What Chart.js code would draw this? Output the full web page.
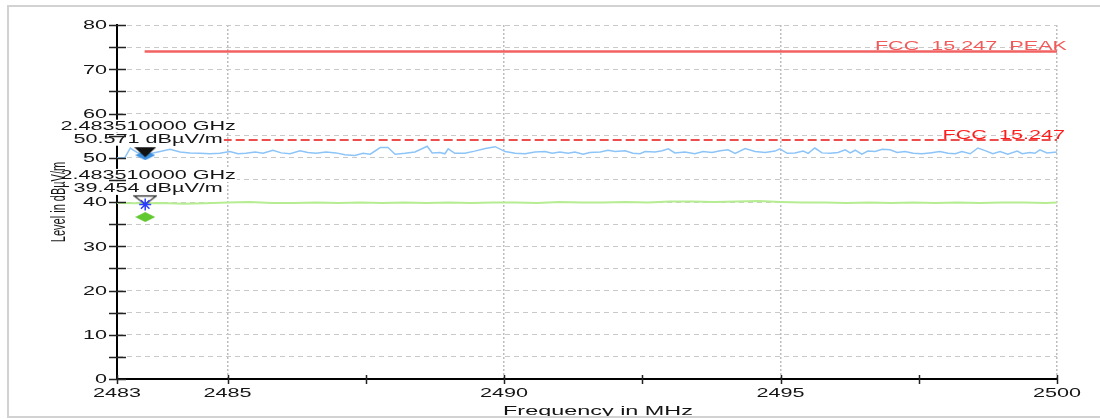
<!DOCTYPE html>
<html>
<head>
<meta charset="utf-8">
<script src="https://cdn.jsdelivr.net/npm/chart.js@4"></script>
<style>
  body { margin: 0; background: #fff; }
  canvas { display: block; }
</style>
</head>
<body>
<canvas id="scan" width="1100" height="419"></canvas>
<script>
'use strict';

// peak trace (blue)
const blueFreq = [2483.00, 2483.14, 2483.24, 2483.36, 2483.51, 2483.63, 2483.78, 2483.96, 2484.14, 2484.32,
  2484.50, 2484.68, 2484.86, 2485.04, 2485.19, 2485.33, 2485.50, 2485.64, 2485.82, 2485.97,
  2486.13, 2486.31, 2486.45, 2486.60, 2486.78, 2486.96, 2487.12, 2487.30, 2487.45, 2487.58,
  2487.76, 2487.90, 2488.03, 2488.21, 2488.39, 2488.61, 2488.70, 2488.84, 2488.93, 2488.99,
  2489.11, 2489.29, 2489.47, 2489.66, 2489.84, 2490.02, 2490.20, 2490.38, 2490.56, 2490.74,
  2490.87, 2491.01, 2491.16, 2491.28, 2491.43, 2491.55, 2491.74, 2491.88, 2492.01, 2492.19,
  2492.33, 2492.46, 2492.55, 2492.73, 2492.86, 2492.97, 2493.09, 2493.27, 2493.45, 2493.60,
  2493.76, 2493.91, 2494.05, 2494.18, 2494.36, 2494.54, 2494.72, 2494.90, 2494.99, 2495.12,
  2495.26, 2495.41, 2495.50, 2495.62, 2495.75, 2495.90, 2496.04, 2496.17, 2496.26, 2496.35,
  2496.47, 2496.58, 2496.71, 2496.84, 2496.98, 2497.11, 2497.25, 2497.40, 2497.56, 2497.70,
  2497.88, 2498.03, 2498.16, 2498.28, 2498.43, 2498.57, 2498.70, 2498.84, 2498.97, 2499.11,
  2499.28, 2499.37, 2499.51, 2499.60, 2499.69, 2499.82, 2500.00];
const blueLevel = [50.0, 50.0, 52.2, 51.2, 50.6, 51.0, 51.4, 51.9, 51.3, 51.1,
  51.0, 50.9, 51.0, 51.4, 50.9, 51.0, 51.3, 51.0, 51.7, 51.1,
  50.9, 51.6, 51.2, 51.0, 51.3, 51.1, 50.7, 50.5, 51.0, 50.8,
  52.3, 52.3, 50.8, 51.0, 51.3, 52.6, 51.1, 51.2, 50.9, 52.0,
  51.0, 51.0, 51.5, 52.1, 52.5, 51.4, 51.0, 50.9, 51.3, 51.4,
  51.0, 51.3, 51.0, 51.3, 50.8, 51.2, 51.3, 51.7, 51.4, 51.6,
  51.0, 50.9, 51.4, 51.3, 51.6, 52.0, 51.1, 51.3, 50.9, 51.4,
  51.2, 51.6, 51.8, 51.0, 52.1, 51.4, 51.2, 51.5, 52.0, 51.0,
  51.1, 51.5, 51.0, 52.2, 51.1, 51.0, 51.2, 51.8, 51.1, 51.7,
  50.8, 51.5, 51.4, 51.9, 51.8, 51.2, 51.4, 51.0, 50.9, 51.1,
  51.4, 51.0, 50.9, 51.4, 50.9, 52.2, 51.6, 50.9, 51.4, 50.8,
  51.5, 50.9, 51.2, 51.0, 51.8, 51.1, 51.3];

// average trace (green)
const greenFreq = [2483.0, 2483.4, 2483.8, 2484.2, 2484.6, 2485.0, 2485.4, 2485.8, 2486.2, 2486.6,
  2487.0, 2487.4, 2487.8, 2488.2, 2488.6, 2489.0, 2489.4, 2489.8, 2490.2, 2490.6,
  2491.0, 2491.4, 2491.8, 2492.2, 2492.6, 2493.0, 2493.4, 2493.8, 2494.2, 2494.6,
  2495.0, 2495.4, 2495.8, 2496.2, 2496.6, 2497.0, 2497.4, 2497.8, 2498.2, 2498.6,
  2499.0, 2499.4, 2499.8, 2500.0];
const greenLevel = [39.8, 39.7, 39.8, 39.6, 39.7, 39.9, 40.0, 39.8, 39.8, 39.9,
  39.8, 39.9, 39.8, 39.9, 39.8, 39.9, 39.8, 39.9, 39.9, 39.8,
  40.0, 39.9, 39.9, 40.0, 39.9, 40.1, 40.1, 40.0, 40.1, 40.2,
  40.0, 39.9, 39.9, 39.8, 39.9, 39.8, 39.9, 39.8, 39.9, 39.8,
  39.9, 39.9, 39.8, 39.9];

// limit lines
const limitFreq = [2483.5, 2500];
const peakLimit = [74, 74];
const avgLimit = [54, 54];
const peakLimitName = 'FCC  15.247  PEAK';
const avgLimitName = 'FCC  15.247';

// markers
const markerFreq = [2483.51];
const peakMarker = [50.571];
const avgMarker = [39.454];
const extraMarker = [36.6];

// axes
const xTicks = [2483, 2485, 2487.5, 2490, 2492.5, 2495, 2497.5, 2500];
const xLabelTicks = [2483, 2485, 2490, 2495, 2500];
const yTicks = [0, 5, 10, 15, 20, 25, 30, 35, 40, 45, 50, 55, 60, 65, 70, 75, 80];
const yLabelTicks = [0, 10, 20, 30, 40, 50, 60, 70, 80];
const xTitle = 'Frequency in MHz';
const yTitle = 'Level in dBµV/m';

const FONT = '"Liberation Sans", Arial, sans-serif';
const SX = 1.8;

const pts = (xs, ys) => xs.map((x, i) => ({ x: x, y: ys[i] }));

const wideText = (ctx, txt, x, y, opts) => {
  ctx.save();
  ctx.font = (opts.size || 12) + 'px ' + FONT;
  ctx.fillStyle = opts.color || '#151515';
  ctx.textAlign = opts.align || 'center';
  ctx.textBaseline = opts.baseline || 'middle';
  ctx.translate(x, y);
  ctx.scale(opts.sx || SX, 1);
  ctx.fillText(txt, 0, 0);
  ctx.restore();
};

const glyph = (w, h, draw) => {
  const c = document.createElement('canvas');
  c.width = w;
  c.height = h;
  draw(c.getContext('2d'));
  return c;
};

const flatDiamond = color => glyph(20, 10, g => {
  g.fillStyle = color;
  g.beginPath();
  g.moveTo(0, 5); g.lineTo(10, 0); g.lineTo(20, 5); g.lineTo(10, 10);
  g.closePath();
  g.fill();
});

const peakFlag = glyph(22, 20, g => {
  g.fillStyle = '#111';
  g.beginPath();
  g.moveTo(0, 2); g.lineTo(22, 2); g.lineTo(11, 12);
  g.closePath();
  g.fill();
});

const avgFlag = glyph(24, 20, g => {
  g.strokeStyle = '#333';
  g.lineWidth = 1.3;
  g.beginPath();
  g.moveTo(1, 1.5); g.lineTo(23, 1.5); g.lineTo(12, 10);
  g.closePath();
  g.stroke();
});

const decor = {
  id: 'decor',
  afterDatasetsDraw(chart) {
    const { ctx, scales: { x, y } } = chart;
    const groups = [peakMarker, avgMarker].map(m => ({
      px: x.getPixelForValue(markerFreq[0]) + 3,
      py: y.getPixelForValue(m[0]),
      lines: [(markerFreq[0] / 1000).toFixed(9) + ' GHz', m[0].toFixed(3) + ' dBµV/m']
    }));
    groups.forEach(gr => {
      gr.lines.forEach((line, i) => {
        const ty = gr.py - 29 + i * 13;
        ctx.save();
        ctx.font = '12px ' + FONT;
        const w = ctx.measureText(line).width * SX + 2;
        ctx.fillStyle = '#fff';
        ctx.fillRect(gr.px - w / 2, ty - 6.5, w, 13);
        ctx.restore();
        wideText(ctx, line, gr.px, ty, {});
      });
    });
  },
  afterDraw(chart) {
    const { ctx, chartArea: a, scales: { x, y } } = chart;

    ctx.save();
    ctx.strokeStyle = '#222';
    ctx.lineWidth = 1.5;
    ctx.beginPath();
    yTicks.forEach(v => {
      const py = Math.round(y.getPixelForValue(v)) + 0.5;
      ctx.moveTo(a.left - 8, py);
      ctx.lineTo(a.left + 9, py);
    });
    xTicks.forEach(v => {
      const px = Math.round(x.getPixelForValue(v)) + 0.5;
      ctx.moveTo(px, a.bottom - 4);
      ctx.lineTo(px, a.bottom + 5);
    });
    ctx.stroke();
    ctx.restore();

    yLabelTicks.forEach(v => wideText(ctx, String(v), a.left - 10, y.getPixelForValue(v) + 1, { align: 'right' }));
    xLabelTicks.forEach(v => wideText(ctx, String(v), x.getPixelForValue(v), a.bottom + 15, {}));

    wideText(ctx, xTitle, (a.left + a.right) / 2 + 11, 411, { size: 13 });

    ctx.save();
    ctx.translate(60, (a.top + a.bottom) / 2);
    ctx.rotate(-Math.PI / 2);
    ctx.scale(1, 1.8);
    ctx.font = '11px ' + FONT;
    ctx.fillStyle = '#151515';
    ctx.textAlign = 'center';
    ctx.textBaseline = 'middle';
    ctx.fillText(yTitle, 0, 0);
    ctx.restore();

    wideText(ctx, peakLimitName, a.right + 10, y.getPixelForValue(peakLimit[1]) - 2,
      { align: 'right', baseline: 'alphabetic', color: '#f25a5a' });
    wideText(ctx, avgLimitName, a.right + 8, y.getPixelForValue(avgLimit[1]) - 1,
      { align: 'right', baseline: 'alphabetic', color: '#ff1e1e' });

    ctx.save();
    ctx.strokeStyle = '#d2d2d2';
    ctx.lineWidth = 2;
    ctx.beginPath();
    ctx.moveTo(1100, 6);
    ctx.lineTo(8, 6);
    ctx.lineTo(8, 417);
    ctx.lineTo(1100, 417);
    ctx.stroke();
    ctx.restore();
  }
};

new Chart(document.getElementById('scan'), {
  type: 'line',
  data: {
    datasets: [
      { data: pts(blueFreq, blueLevel), borderColor: '#8cc4f8', borderWidth: 1.5, pointRadius: 0, order: 5 },
      { data: pts(greenFreq, greenLevel), borderColor: '#b6ed92', borderWidth: 2, pointRadius: 0, order: 5 },
      { data: pts(limitFreq, peakLimit), borderColor: '#f26262', borderWidth: 2.5, pointRadius: 0, order: 4 },
      { data: pts(limitFreq, avgLimit), borderColor: '#e61414', borderWidth: 1.5, borderDash: [9, 4], pointRadius: 0, order: 4 },
      { data: pts(markerFreq, peakMarker), showLine: false, pointStyle: flatDiamond('#3d8fe0'), pointRadius: 10, order: 2 },
      { data: pts(markerFreq, peakMarker), showLine: false, pointStyle: peakFlag, pointRadius: 10, order: 1 },
      { data: pts(markerFreq, avgMarker), showLine: false, pointStyle: avgFlag, pointRadius: 10, order: 2 },
      { data: pts(markerFreq, avgMarker), showLine: false, pointStyle: 'star', pointRadius: 6, borderColor: '#2a3cff', borderWidth: 1.5, order: 1 },
      { data: pts(markerFreq, extraMarker), showLine: false, pointStyle: flatDiamond('#62c832'), pointRadius: 10, order: 2 }
    ]
  },
  options: {
    responsive: false,
    animation: false,
    events: [],
    layout: { padding: { left: 0, top: 25, right: 43, bottom: 0 } },
    plugins: { legend: { display: false }, tooltip: { enabled: false } },
    scales: {
      x: {
        type: 'linear',
        min: 2483,
        max: 2500,
        afterBuildTicks: s => { s.ticks = xTicks.map(v => ({ value: v })); },
        afterFit: s => { s.height = 40; },
        ticks: { display: false },
        grid: {
          drawTicks: false,
          lineWidth: 1.5,
          color: c => (c.tick && c.tick.value !== 2483 && xLabelTicks.includes(c.tick.value)) ? '#bdbdbd' : 'rgba(0,0,0,0)'
        },
        border: { color: '#000', width: 2, dash: [2, 2] }
      },
      y: {
        min: 0,
        max: 80,
        afterBuildTicks: s => { s.ticks = yTicks.map(v => ({ value: v })); },
        afterFit: s => { s.width = 117; },
        ticks: { display: false },
        grid: { drawTicks: false, color: '#c9c9c9', lineWidth: 1 },
        border: { color: '#000', width: 2, dash: [5, 4] }
      }
    }
  },
  plugins: [decor]
});
</script>
</body>
</html>
